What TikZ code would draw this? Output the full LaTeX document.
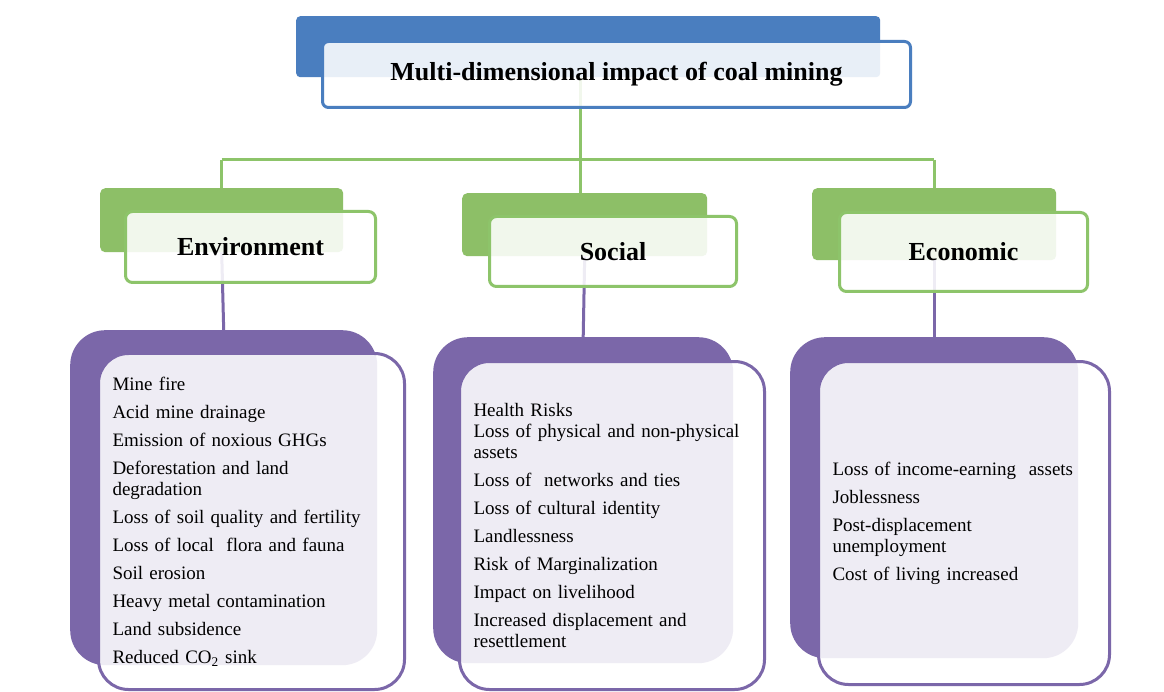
\documentclass[tikz,border=0pt]{standalone}
\usepackage{fontspec}
\setmainfont{Liberation Serif}
\begin{document}
\begin{tikzpicture}[x=1pt,y=-1pt,
  backbox/.style={draw=none, rounded corners=#1, anchor=north west, inner sep=0pt},
  frontbox/.style={line width=3pt, fill=white, fill opacity=0.88, text opacity=1, draw opacity=1, rounded corners=#1, anchor=north west, inner sep=0pt},
  titletext/.style={font=\bfseries\fontsize{26}{30}\selectfont},
  headtext/.style={font=\bfseries\fontsize{26}{30}\selectfont},
  listtext/.style={font=\fontsize{19}{21}\selectfont, align=left, inner xsep=14pt, inner ysep=0pt},
  greenconn/.style={draw=gline, line width=3pt},
  purpleconn/.style={draw=purpleback, line width=3pt},
]
\definecolor{blueback}{HTML}{4A7EBF}
\definecolor{bluebord}{HTML}{4A7EBF}
\definecolor{greenback}{HTML}{8DBF67}
\definecolor{gline}{HTML}{8DC46A}
\definecolor{purpleback}{HTML}{7B67A9}
\useasboundingbox (0,0) rectangle (1164,692);
\fill[white] (0,0) rectangle (1164,692);

% back boxes
\node[backbox=4pt, fill=blueback, minimum width=584pt, minimum height=61pt] (tback) at (296,16) {};
\node[backbox=5pt, fill=greenback, minimum width=243pt, minimum height=64pt] (eback) at (100,188) {};
\node[backbox=5pt, fill=greenback, minimum width=245pt, minimum height=63pt] (sback) at (462,193) {};
\node[backbox=5pt, fill=greenback, minimum width=244pt, minimum height=72pt] (cback) at (812,188) {};
\node[backbox=35pt, fill=purpleback, minimum width=307pt, minimum height=335pt] (epback) at (70,330) {};
\node[backbox=35pt, fill=purpleback, minimum width=300pt, minimum height=326pt] (spback) at (433,337) {};
\node[backbox=35pt, fill=purpleback, minimum width=288pt, minimum height=321pt] (cpback) at (790,337) {};

% connectors
\coordinate (jl) at (eback.north |- 0,160);
\coordinate (jr) at (cback.north |- 0,160);
\coordinate (jm) at (580,160);
\draw[greenconn] (jm |- tback.south) -- (jm) -- (jm |- sback.north);
\draw[greenconn] (jl) -- (jr);
\draw[greenconn] (jl) -- (eback.north);
\draw[greenconn] (jr) -- (cback.north);
\draw[purpleconn] (eback.south) -- (epback.north);
\draw[purpleconn] (sback.south) -- (spback.north);
\draw[purpleconn] (cback.south) -- (cpback.north);

% front boxes
\node[frontbox=6pt, draw=bluebord, minimum width=588pt, minimum height=66pt, titletext] (title) at (321,40) {Multi-dimensional impact of coal mining};
\node[frontbox=7pt, draw=gline, minimum width=250pt, minimum height=71pt, headtext] (env) at (124,210) {Environment};
\node[frontbox=7pt, draw=gline, minimum width=247pt, minimum height=70pt, headtext] (soc) at (488,215) {Social};
\node[frontbox=7pt, draw=gline, minimum width=248pt, minimum height=79pt, headtext] (eco) at (838,211) {Economic};

\node[frontbox=30pt, draw=purpleback, listtext, text width=278pt, minimum height=336pt] (envl) at (97,352) {%
Mine fire\\[7pt]
Acid mine drainage\\[7pt]
Emission of noxious GHGs\\[7pt]
Deforestation and land\\ degradation\\[7pt]
Loss of soil quality and fertility\\[7pt]
Loss of local\ \ flora and fauna\\[7pt]
Soil erosion\\[7pt]
Heavy metal contamination\\[7pt]
Land subsidence\\[7pt]
Reduced CO\textsubscript{2} sink};
\node[frontbox=30pt, draw=purpleback, listtext, text width=277pt, minimum height=328pt] (socl) at (458,360) {%
Health Risks\\
Loss of physical and non-physical\\ assets\\[7pt]
Loss of\ \ networks and ties\\[7pt]
Loss of cultural identity\\[7pt]
Landlessness\\[7pt]
Risk of Marginalization\\[7pt]
Impact on livelihood\\[7pt]
Increased displacement and\\ resettlement};
\node[frontbox=30pt, draw=purpleback, listtext, text width=263pt, minimum height=323pt] (ecol) at (817,360) {%
Loss of income-earning\ \ assets\\[7pt]
Joblessness\\[7pt]
Post-displacement\\ unemployment\\[7pt]
Cost of living increased};
\end{tikzpicture}
\end{document}
